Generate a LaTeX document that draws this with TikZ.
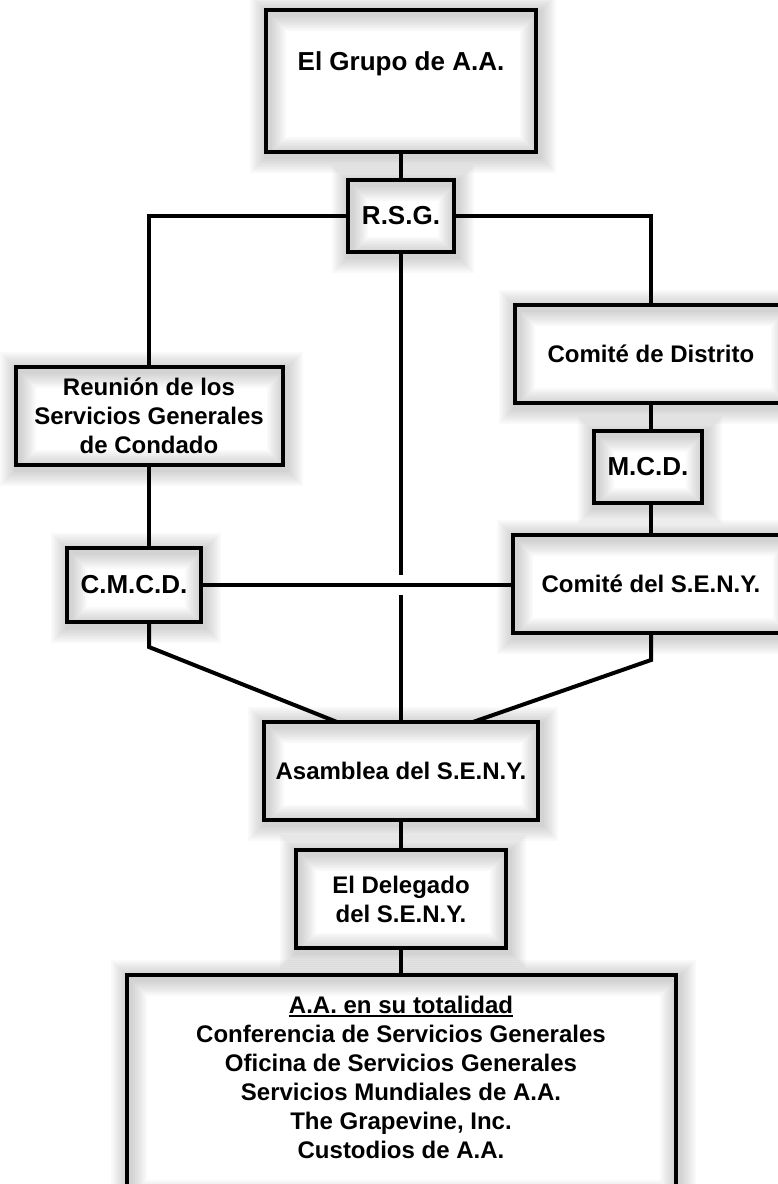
\documentclass[tikz,border=0pt]{standalone}
\usepackage{fontspec}
\setmainfont{Liberation Sans}
\usetikzlibrary{positioning,calc}

\newcommand{\ulthick}[1]{\leavevmode\vtop{\hbox{#1}\kern1.5pt\hrule height 2pt}}

\begin{document}
\begin{tikzpicture}[
    x=1pt, y=-1pt,
    glow/.style={preaction={draw=black, draw opacity=.025, line width=#1, transform canvas={xshift=2pt, yshift=-3pt}}},
    box/.style={rectangle, draw, line width=4pt, inner sep=0pt, align=center,
        glow=36pt, glow=32pt, glow=28pt, glow=24pt, glow=20pt, glow=16pt, glow=12pt, glow=8pt,
        font=\fontsize{24}{29}\selectfont\bfseries},
    small/.style={box, font=\fontsize{26}{31}\selectfont\bfseries},
    conn/.style={line width=4pt},
    bridge/.style={preaction={draw=white, line width=20pt, shorten <=24pt, shorten >=24pt}}
]
    \useasboundingbox (0,0) rectangle (777,1184);

    \node[small, minimum width=270pt, minimum height=142pt, text depth=40pt] (grp) at (401,81) {El Grupo de A.A.};
    \node[small, minimum width=106pt, minimum height=72pt] (rsg) at (401,216) {R.S.G.};
    \node[box, minimum width=267pt, minimum height=98pt] (reun) at (149,416) {Reunión de los\\Servicios Generales\\de Condado};
    \node[box, minimum width=272pt, minimum height=98pt] (distrito) at (651,354) {Comité de Distrito};
    \node[small, minimum width=108pt, minimum height=72pt] (mcd) at (648,467) {M.C.D.};
    \node[small, minimum width=134pt, minimum height=74pt] (cmcd) at (134,585) {C.M.C.D.};
    \node[box, minimum width=276pt, minimum height=98pt] (cseny) at (651,584) {Comité del S.E.N.Y.};
    \node[box, minimum width=274pt, minimum height=98pt] (asam) at (401,771) {Asamblea del S.E.N.Y.};
    \node[box, minimum width=210pt, minimum height=98pt] (deleg) at (401,899) {El Delegado\\del S.E.N.Y.};
    \node[box, minimum width=549pt, minimum height=220pt] (aa) at (401,1085) {};
    \node[align=center, inner sep=0pt, font=\fontsize{24}{29}\selectfont\bfseries] (aatxt) at (401,1077) {\ulthick{A.A. en su totalidad}\\Conferencia de Servicios Generales\\Oficina de Servicios Generales\\Servicios Mundiales de A.A.\\The Grapevine, Inc.\\Custodios de A.A.};

    \coordinate (lbend) at (149,647);
    \coordinate (lfoot) at (337,722);
    \coordinate (rbend) at (651,660);
    \coordinate (rfoot) at (473,722);

    \draw[conn] (grp) -- (rsg);
    \draw[conn] (rsg.west) -| (reun.north);
    \draw[conn] (rsg.east) -| (distrito.north);
    \draw[conn] (reun.south) -- (reun.south |- cmcd.north);
    \draw[conn] (distrito.south) -- (distrito.south |- mcd.north);
    \draw[conn] (cseny.north |- mcd.south) -- (cseny.north);
    \draw[conn] (rsg) -- (asam);
    \draw[conn, bridge] (cmcd.east) -- (cmcd.east -| cseny.west);
    \draw[conn] (reun.south |- cmcd.south) -- (lbend) -- (lfoot);
    \draw[conn] (cseny.south) -- (rbend) -- (rfoot);
    \draw[conn] (asam) -- (deleg);
    \draw[conn] (deleg) -- (aa);
\end{tikzpicture}
\end{document}
